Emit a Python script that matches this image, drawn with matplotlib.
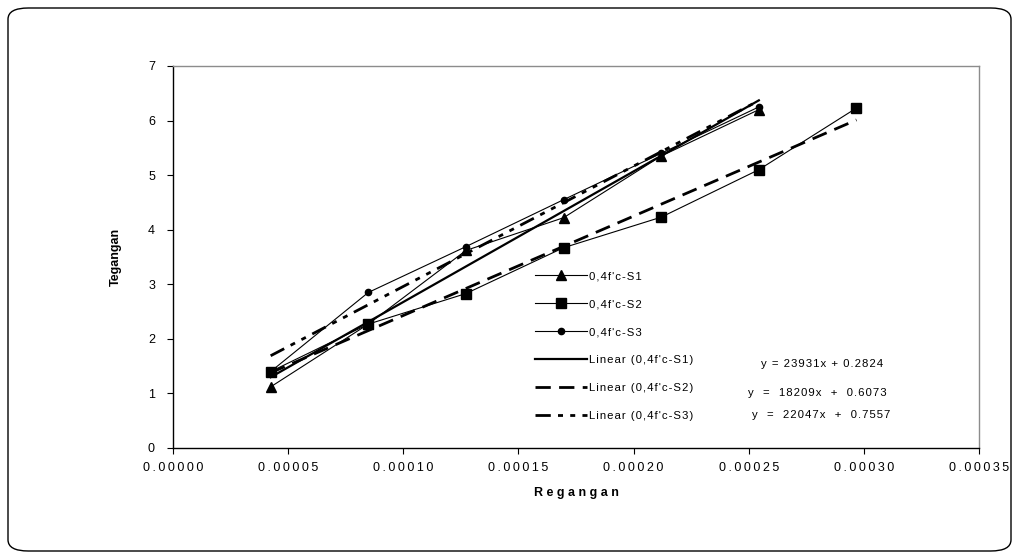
import matplotlib.pyplot as plt
from matplotlib.patches import FancyBboxPatch

# strain (Regangan) and stress (Tegangan) readings
strain = [0.0000424, 0.0000848, 0.0001272, 0.0001696, 0.0002120, 0.0002544, 0.0002968]
stress_s1 = [1.12, 2.27, 3.62, 4.22, 5.35, 6.20]
stress_s2 = [1.40, 2.27, 2.83, 3.67, 4.23, 5.10, 6.23]
stress_s3 = [1.40, 2.85, 3.69, 4.55, 5.40, 6.25]

series_names = ["0,4f'c-S1", "0,4f'c-S2", "0,4f'c-S3"]
trend_slope = [23931, 18209, 22047]
trend_intercept = [0.2824, 0.6073, 0.7557]
equations = ["y = 23931x + 0.2824", "y  =  18209x  +  0.6073", "y  =  22047x  +  0.7557"]

x_ticks = [0.0, 0.00005, 0.00010, 0.00015, 0.00020, 0.00025, 0.00030, 0.00035]
y_ticks = [0, 1, 2, 3, 4, 5, 6, 7]

plt.rcParams['font.family'] = ['Liberation Sans', 'DejaVu Sans']


def spread(s, gap='\u2009'):
    # fake the wide letter spacing of the original
    return gap.join(s)


fig = plt.figure(figsize=(10.19, 5.59), dpi=100)
ax = fig.add_axes([173 / 1019, 1 - 448 / 559, 806 / 1019, 382 / 559])

# rounded outer frame
frame = FancyBboxPatch((8 / 1019, 8 / 559), 1003 / 1019, 543 / 559,
                       boxstyle="round,pad=0,rounding_size=0.02",
                       transform=fig.transFigure, fill=False,
                       edgecolor='black', linewidth=1.0, zorder=0)
fig.patches.append(frame)

all_series = [stress_s1, stress_s2, stress_s3]
markers = ['^', 's', 'o']
msizes = [6.5, 7.5, 4.5]
trend_styles = [
    dict(linestyle='-', linewidth=1.6),
    dict(linestyle=(0, (5.5, 3.0)), linewidth=2.0),
    dict(linestyle=(0, (5.5, 2.6, 1.8, 2.6, 1.8, 2.6)), linewidth=2.0),
]

data_handles = []
trend_handles = []
for i, ys in enumerate(all_series):
    xs = strain[:len(ys)]
    h, = ax.plot(xs, ys, color='black', linewidth=0.8, marker=markers[i],
                 markersize=msizes[i], markerfacecolor='black',
                 markeredgecolor='black', zorder=3)
    data_handles.append(h)

for i, ys in enumerate(all_series):
    xs = [strain[0], strain[len(ys) - 1]]
    yt = [trend_slope[i] * x + trend_intercept[i] for x in xs]
    h, = ax.plot(xs, yt, color='black', zorder=2, **trend_styles[i])
    trend_handles.append(h)

ax.set_xlim(0, 0.00035)
ax.set_ylim(0, 7)
ax.set_xticks(x_ticks)
ax.set_xticklabels([spread(f"{v:.5f}") for v in x_ticks])
ax.set_yticks(y_ticks)
ax.set_yticklabels([str(v) for v in y_ticks])
ax.tick_params(axis='both', direction='out', length=4, width=0.8,
               colors='black', labelsize=9)
ax.tick_params(axis='x', pad=6)
ax.tick_params(axis='y', pad=9)

for side in ['top', 'right']:
    ax.spines[side].set_color('#8c8c8c')
    ax.spines[side].set_linewidth(1.0)
for side in ['left', 'bottom']:
    ax.spines[side].set_color('black')
    ax.spines[side].set_linewidth(1.0)

ax.set_ylabel('Tegangan', fontweight='bold', fontsize=9)
ax.yaxis.set_label_coords(-0.063, 0.5)
ax.set_xlabel(spread('Regangan', '\u2009\u200a'), fontweight='bold', fontsize=9)
ax.xaxis.set_label_coords(0.501, -0.102)

labels = [spread(n, '\u200a') for n in series_names] + \
         [spread('Linear (' + n + ')', '\u200a') for n in series_names]
leg = ax.legend(data_handles + trend_handles, labels,
                loc='center left', bbox_to_anchor=(535 / 1019, 1 - 346 / 559),
                bbox_transform=fig.transFigure, frameon=False, fontsize=8.2,
                handlelength=4.6, handletextpad=0.15, labelspacing=1.58,
                borderpad=0, borderaxespad=0)

eq_pos = [(761, 364), (748, 393), (752, 415)]
for txt, (px, py) in zip(equations, eq_pos):
    fig.text(px / 1019, 1 - py / 559, spread(txt, '\u200a'), fontsize=8.2,
             va='center', ha='left')

plt.savefig('out.png', dpi=100)
